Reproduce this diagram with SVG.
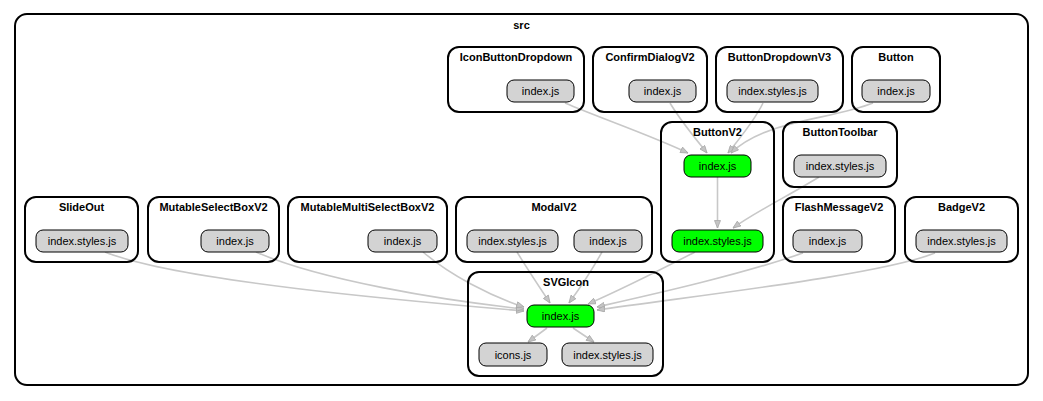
<svg xmlns="http://www.w3.org/2000/svg" width="1043" height="401" viewBox="0 0 1043 401">
<style>
.cl{fill:none;stroke:#000;stroke-width:2}
.ct{font-family:"Liberation Sans",Arial,sans-serif;font-size:11px;font-weight:bold;text-anchor:middle;fill:#000}
.n{fill:#d3d3d3;stroke:#000;stroke-width:1}
.g{fill:#00ff00;stroke:#000;stroke-width:1}
.nt{font-family:"Liberation Sans",Arial,sans-serif;font-size:11px;text-anchor:middle;fill:#000}
.e{fill:none;stroke:#c8c8c8;stroke-width:1.6;marker-end:url(#ah)}
</style>
<defs>
<marker id="ah" markerUnits="userSpaceOnUse" viewBox="0 0 8 7" refX="8" refY="3.5" markerWidth="8" markerHeight="7" orient="auto">
<path d="M0.5,0.5 L8,3.5 L0.5,6.5 z" fill="#c4c4c4" stroke="#a8a8a8" stroke-width="0.8"/>
</marker>
</defs>
<rect width="1043" height="401" fill="#fff"/>
<g id="src">
<rect class="cl" x="15" y="14" width="1013" height="371" rx="12"/>
<text class="ct" x="521.5" y="29">src</text>
</g>
<g id="connectors">
<path class="e" d="M565,103 C600,118 650,135 688,153"/>
<path class="e" d="M670,103 C680,120 695,138 707,153"/>
<path class="e" d="M763,103 C755,120 740,138 728,153"/>
<path class="e" d="M873,103 C830,120 765,120 731,153"/>
<path class="e" d="M717.5,177 L717.5,228"/>
<path class="e" d="M819,177 C790,195 755,212 733,228"/>
<path class="e" d="M105,252 C180,282 420,302 524,311"/>
<path class="e" d="M256,252 C320,280 440,300 524,309"/>
<path class="e" d="M423,252 C450,275 490,296 524,307"/>
<path class="e" d="M517,252 C528,270 540,288 550,303"/>
<path class="e" d="M602,252 C592,270 580,288 569,303"/>
<path class="e" d="M695,252 C660,270 620,290 588,304"/>
<path class="e" d="M803,253 C740,275 650,295 597,307"/>
<path class="e" d="M935,253 C880,275 700,295 597,310"/>
<path class="e" d="M547,328 L528,342"/>
<path class="e" d="M573,328 L594,342"/>
</g>
<g id="IconButtonDropdown">
<rect class="cl" x="448" y="47" width="136" height="65" rx="11"/>
<text class="ct" x="516" y="60.5">IconButtonDropdown</text>
<rect class="n" x="507" y="80" width="67" height="22" rx="7"/>
<text class="nt" x="540.5" y="95">index.js</text>
</g>
<g id="ConfirmDialogV2">
<rect class="cl" x="593" y="47" width="114" height="65" rx="11"/>
<text class="ct" x="650" y="60.5">ConfirmDialogV2</text>
<rect class="n" x="629" y="80" width="67" height="22" rx="7"/>
<text class="nt" x="662.5" y="95">index.js</text>
</g>
<g id="ButtonDropdownV3">
<rect class="cl" x="716" y="47" width="127" height="65" rx="11"/>
<text class="ct" x="779.5" y="60.5">ButtonDropdownV3</text>
<rect class="n" x="727" y="80" width="91" height="22" rx="7"/>
<text class="nt" x="772.5" y="95">index.styles.js</text>
</g>
<g id="Button">
<rect class="cl" x="852" y="47" width="88" height="65" rx="11"/>
<text class="ct" x="896" y="60.5">Button</text>
<rect class="n" x="862" y="80" width="68" height="22" rx="7"/>
<text class="nt" x="896" y="95">index.js</text>
</g>
<g id="ButtonV2">
<rect class="cl" x="661" y="122" width="113" height="140" rx="11"/>
<text class="ct" x="717.5" y="136">ButtonV2</text>
<rect class="g" x="684" y="155" width="67" height="22" rx="7"/>
<text class="nt" x="717.5" y="170">index.js</text>
<rect class="g" x="672" y="230" width="91" height="22" rx="7"/>
<text class="nt" x="717.5" y="245">index.styles.js</text>
</g>
<g id="ButtonToolbar">
<rect class="cl" x="783" y="122" width="114" height="65" rx="11"/>
<text class="ct" x="840" y="136">ButtonToolbar</text>
<rect class="n" x="794" y="155" width="92" height="22" rx="7"/>
<text class="nt" x="840" y="170">index.styles.js</text>
</g>
<g id="SlideOut">
<rect class="cl" x="25" y="197" width="113" height="65" rx="11"/>
<text class="ct" x="81.5" y="211">SlideOut</text>
<rect class="n" x="36" y="230" width="92" height="22" rx="7"/>
<text class="nt" x="82" y="245">index.styles.js</text>
</g>
<g id="MutableSelectBoxV2">
<rect class="cl" x="148" y="197" width="131" height="65" rx="11"/>
<text class="ct" x="213.5" y="211">MutableSelectBoxV2</text>
<rect class="n" x="201" y="230" width="68" height="22" rx="7"/>
<text class="nt" x="235" y="245">index.js</text>
</g>
<g id="MutableMultiSelectBoxV2">
<rect class="cl" x="288" y="197" width="159" height="65" rx="11"/>
<text class="ct" x="367.5" y="211">MutableMultiSelectBoxV2</text>
<rect class="n" x="368" y="230" width="69" height="22" rx="7"/>
<text class="nt" x="402.5" y="245">index.js</text>
</g>
<g id="ModalV2">
<rect class="cl" x="456" y="197" width="196" height="65" rx="11"/>
<text class="ct" x="554" y="211">ModalV2</text>
<rect class="n" x="467" y="230" width="91" height="22" rx="7"/>
<text class="nt" x="512.5" y="245">index.styles.js</text>
<rect class="n" x="574" y="230" width="68" height="22" rx="7"/>
<text class="nt" x="608" y="245">index.js</text>
</g>
<g id="FlashMessageV2">
<rect class="cl" x="783" y="197" width="112" height="65" rx="11"/>
<text class="ct" x="839" y="211">FlashMessageV2</text>
<rect class="n" x="793" y="230" width="69" height="22" rx="7"/>
<text class="nt" x="827.5" y="245">index.js</text>
</g>
<g id="BadgeV2">
<rect class="cl" x="905" y="197" width="113" height="65" rx="11"/>
<text class="ct" x="961.5" y="211">BadgeV2</text>
<rect class="n" x="916" y="230" width="91" height="22" rx="7"/>
<text class="nt" x="961.5" y="245">index.styles.js</text>
</g>
<g id="SVGIcon">
<rect class="cl" x="468" y="272" width="195" height="104" rx="11"/>
<text class="ct" x="566" y="286">SVGIcon</text>
<rect class="g" x="527" y="305" width="67" height="22" rx="7"/>
<text class="nt" x="560.5" y="320">index.js</text>
<rect class="n" x="479" y="343" width="68" height="23" rx="7"/>
<text class="nt" x="513" y="358.5">icons.js</text>
<rect class="n" x="562" y="343" width="91" height="23" rx="7"/>
<text class="nt" x="607.5" y="358.5">index.styles.js</text>
</g>
</svg>
